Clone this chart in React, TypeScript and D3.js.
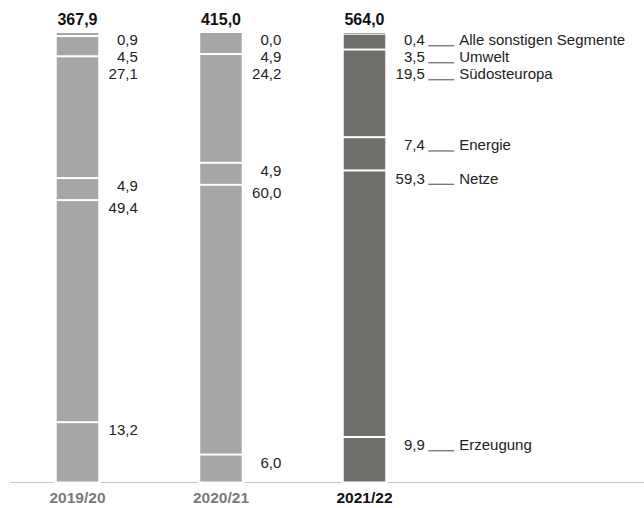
import React from "react";
import * as d3 from "d3";

// Fiscal years and their totals
const years = ["2019/20", "2020/21", "2021/22"];
const totals = ["367,9", "415,0", "564,0"];

// Segments, stacked bottom to top
const segments = [
  "Erzeugung",
  "Netze",
  "Energie",
  "Südosteuropa",
  "Umwelt",
  "Alle sonstigen Segmente",
];

// Share of each segment in percent, per year (bottom to top)
const share2019 = [13.2, 49.4, 4.9, 27.1, 4.5, 0.9];
const share2020 = [6.0, 60.0, 4.9, 24.2, 4.9, 0.0];
const share2021 = [9.9, 59.3, 7.4, 19.5, 3.5, 0.4];
const shares = [share2019, share2020, share2021];

const W = 644;
const H = 508;
const fmt = (v: number) => v.toFixed(1).replace(".", ",");

export default function App() {
  const baseY = 482.5;
  const topY = 33;
  const y = d3.scaleLinear().domain([0, 100]).range([baseY, topY]);
  const xc = d3.scalePoint().domain(years).range([77.5, 364.5]);
  const bw = 41.5;
  const font = "'Liberation Sans', Arial, sans-serif";
  const fs = 15;

  return (
    <svg width={W} height={H} style={{ position: "absolute", left: 0, top: 0 }}>
      <rect width={W} height={H} fill="#fff" />
      <line x1={10} x2={W} y1={baseY} y2={baseY} stroke="#c6c6c6" strokeWidth={1.2} />
      {years.map((yr, i) => {
        const vals = shares[i];
        const x0 = xc(yr)! - bw / 2;
        const last = i === years.length - 1;
        const fill = last ? "#6f6e6b" : "#a6a6a6";
        let cum = 0;
        const segs = vals.map((v) => {
          const s = { v, y0: cum, y1: cum + v };
          cum += v;
          return s;
        });
        // label layout from top down, avoiding overlaps
        const order = segs.map((s, k) => ({ ...s, k })).reverse();
        let prev = -Infinity;
        const labels = order.map((s) => {
          const yy = Math.max(y(s.y1) + 12.3, prev + 17);
          prev = yy;
          return { ...s, ly: yy };
        });
        const labelRight = x0 + bw + 39.5;
        return (
          <g key={yr}>
            <rect x={x0 - 2.5} y={topY - 1} width={bw + 5} height={baseY - topY + 2} fill="#fff" />
            {segs.map((s, k) => {
              const yt = y(s.y1);
              const yb = y(s.y0);
              const h = Math.max(s.v > 0 ? 1 : 0, yb - yt - (k === 0 ? 1 : 2));
              return h > 0 ? (
                <rect
                  key={k}
                  x={x0}
                  y={yt}
                  width={bw}
                  height={h}
                  fill={h < 2 ? "#a9a9a9" : fill}
                />
              ) : null;
            })}
            <text
              x={x0 + bw / 2}
              y={24.5}
              textAnchor="middle"
              fontFamily={font}
              fontWeight={700}
              fontSize={16}
              fill="#111"
            >
              {totals[i]}
            </text>
            <text
              x={x0 + bw / 2}
              y={502.5}
              textAnchor="middle"
              fontFamily={font}
              fontWeight={700}
              fontSize={15.5}
              fill={last ? "#111" : "#7a7a7a"}
            >
              {yr}
            </text>
            {labels.map((l) => (
              <g key={l.k}>
                <text
                  x={labelRight}
                  y={l.ly}
                  textAnchor="end"
                  fontFamily={font}
                  fontSize={fs}
                  fill="#222"
                >
                  {fmt(l.v)}
                </text>
                {last && (
                  <>
                    <line
                      x1={labelRight + 3.5}
                      x2={labelRight + 29.5}
                      y1={l.ly + 0.5}
                      y2={l.ly + 0.5}
                      stroke="#333"
                      strokeWidth={0.9}
                    />
                    <text
                      x={labelRight + 34.5}
                      y={l.ly}
                      fontFamily={font}
                      fontSize={fs}
                      fill="#222"
                    >
                      {segments[l.k]}
                    </text>
                  </>
                )}
              </g>
            ))}
          </g>
        );
      })}
    </svg>
  );
}
